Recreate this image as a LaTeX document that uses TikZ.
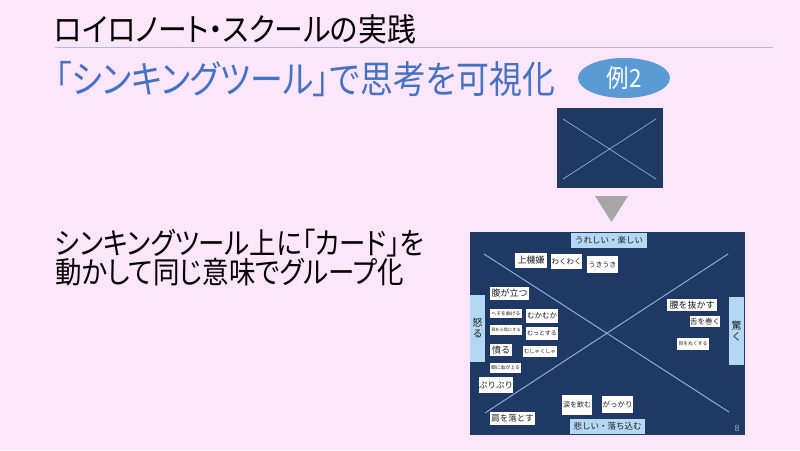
\documentclass[tikz,border=0pt]{standalone}
\usepackage{fontspec}
\usetikzlibrary{shapes.geometric}
\setmainfont{Noto Sans CJK JP}
\newfontfamily\jp{Noto Sans CJK JP}
\newfontfamily\jpc[FakeStretch=0.9, RawFeature=+palt]{Noto Sans CJK JP}
\newfontfamily\jpsub[FakeStretch=0.865, RawFeature=+palt]{Noto Sans CJK JP}
\newfontfamily\jpdesc[FakeStretch=0.882, RawFeature=+palt]{Noto Sans CJK JP}
\newfontfamily\numfont{Liberation Sans}
\definecolor{bgpink}{RGB}{253,229,250}
\definecolor{navy}{RGB}{31,56,100}
\definecolor{lblue}{RGB}{180,215,242}
\definecolor{xline}{RGB}{143,170,220}
\definecolor{subblue}{RGB}{68,114,196}
\definecolor{ellblue}{RGB}{91,155,213}
\definecolor{ruleblue}{RGB}{169,188,224}
\definecolor{tri}{RGB}{166,166,166}
\definecolor{cardtext}{RGB}{30,30,30}
\tikzset{
  card/.style={fill=white, inner sep=0pt, text=cardtext, font=\jp},
  emolabel/.style={fill=lblue, inner sep=0pt, text=cardtext, font=\jp, align=center},
  xln/.style={draw=xline, line width=1pt},
}
\begin{document}
\begin{tikzpicture}[x=1pt,y=-1pt]
\fill[bgpink] (0,0) rectangle (800,450);
\useasboundingbox (0,0) rectangle (800,450);
% title
\node[anchor=west, inner sep=0pt, font=\jpc\fontsize{32}{32}\selectfont] (title) at (54,29) {ロイロノート・スクールの実践};
\draw[ruleblue, line width=0.8pt] (55,47) -- (773,47);
\node[anchor=west, inner sep=0pt, text=subblue, font=\jpsub\fontsize{38}{38}\selectfont] (sub) at (55,79) {「シンキングツール」で思考を可視化};
\node[ellipse, fill=ellblue, minimum width=92pt, minimum height=40pt, inner sep=0pt, text=white, font=\jpc\fontsize{25}{25}\selectfont] (ex) at (624,78) {例2};
% left text
\node[anchor=north west, inner sep=0pt, align=left, font=\jpdesc\fontsize{30}{29}\selectfont] (desc) at (55,229) {シンキングツール上に「カード」を\\動かして同じ意味でグループ化};
% small box
\node[fill=navy, minimum width=106pt, minimum height=80pt, inner sep=0pt] (small) at (610,148) {};
\draw[xln, line width=0.7pt] (563,119) -- (656,179);
\draw[xln, line width=0.7pt] (656,119) -- (563,179);
% triangle
\fill[tri] (595,196) -- (628,196) -- (611.5,222) -- cycle;
% big box
\node[fill=navy, minimum width=275pt, minimum height=203pt, inner sep=0pt] (big) at (607.5,333.5) {};
\draw[xln] (484,254) -- (729,412);
\draw[xln] (728,254) -- (485,413);
% emotion labels
\node[emolabel, minimum width=76pt, minimum height=15pt, font=\jp\fontsize{8.5}{9}\selectfont] (top) at (609,240.5) {うれしい・楽しい};
\node[emolabel, minimum width=75pt, minimum height=15pt, font=\jp\fontsize{8.5}{9}\selectfont] (bottom) at (607.5,426.5) {悲しい・落ち込む};
\node[emolabel, minimum width=15pt, minimum height=67pt, font=\jp\fontsize{10}{11}\selectfont] (left) at (477.5,328.5) {怒\\る};
\node[emolabel, minimum width=15pt, minimum height=68pt, font=\jp\fontsize{10}{11}\selectfont] (right) at (736.5,331) {驚\\く};
% cards
\node[card, minimum width=32pt, minimum height=15pt, font=\jp\fontsize{9}{9}\selectfont] (c1) at (531,260.5) {上機嫌};
\node[card, minimum width=31pt, minimum height=15pt, font=\jp\fontsize{7.5}{8}\selectfont] (c2) at (566.5,261.5) {わくわく};
\node[card, minimum width=31pt, minimum height=17pt, font=\jp\fontsize{7}{8}\selectfont] (c3) at (602.5,264.5) {うきうき};
\node[card, minimum width=39pt, minimum height=13pt, font=\jp\fontsize{9}{9}\selectfont] (c4) at (509.5,293.5) {腹が立つ};
\node[card, minimum width=32pt, minimum height=9pt, font=\jp\fontsize{4.8}{5}\selectfont] (c5) at (506,313.5) {へそを曲げる};
\node[card, minimum width=32pt, minimum height=14pt, font=\jp\fontsize{7.5}{8}\selectfont] (c6) at (542,316) {むかむか};
\node[card, minimum width=32pt, minimum height=10pt, font=\jp\fontsize{4.2}{5}\selectfont] (c7) at (506,330) {目を三角にする};
\node[card, minimum width=32pt, minimum height=13pt, font=\jp\fontsize{6}{7}\selectfont] (c8) at (542,333.5) {むっとする};
\node[card, minimum width=22pt, minimum height=12pt, font=\jp\fontsize{9}{9}\selectfont] (c9) at (501,350) {憤る};
\node[card, minimum width=34pt, minimum height=11pt, font=\jp\fontsize{5.3}{6}\selectfont] (c10) at (540,351.5) {むしゃくしゃ};
\node[card, minimum width=31pt, minimum height=10pt, font=\jp\fontsize{4.8}{5}\selectfont] (c11) at (505.5,368) {頭に血が上る};
\node[card, minimum width=32pt, minimum height=16pt, font=\jp\fontsize{8.5}{9}\selectfont] (c12) at (496,385) {ぷりぷり};
\node[card, minimum width=45pt, minimum height=13pt, font=\jp\fontsize{8.5}{9}\selectfont] (c13) at (512.5,418.5) {肩を落とす};
\node[card, minimum width=30pt, minimum height=20pt, font=\jp\fontsize{7}{8}\selectfont] (c14) at (577,405) {涙を飲む};
\node[card, minimum width=31pt, minimum height=17pt, font=\jp\fontsize{7.5}{8}\selectfont] (c15) at (617.5,404.5) {がっかり};
\node[card, minimum width=50pt, minimum height=12pt, font=\jp\fontsize{9}{9}\selectfont] (c16) at (692,305) {腰を抜かす};
\node[card, minimum width=30pt, minimum height=11pt, font=\jp\fontsize{7.5}{8}\selectfont] (c17) at (705,321.5) {舌を巻く};
\node[card, minimum width=32pt, minimum height=12pt, font=\jp\fontsize{4.8}{5}\selectfont] (c18) at (693,344) {目を丸くする};
% page number
\node[inner sep=0pt, text=tri, font=\numfont\fontsize{9}{9}\selectfont] (pg) at (737,428) {8};
\end{tikzpicture}
\end{document}
